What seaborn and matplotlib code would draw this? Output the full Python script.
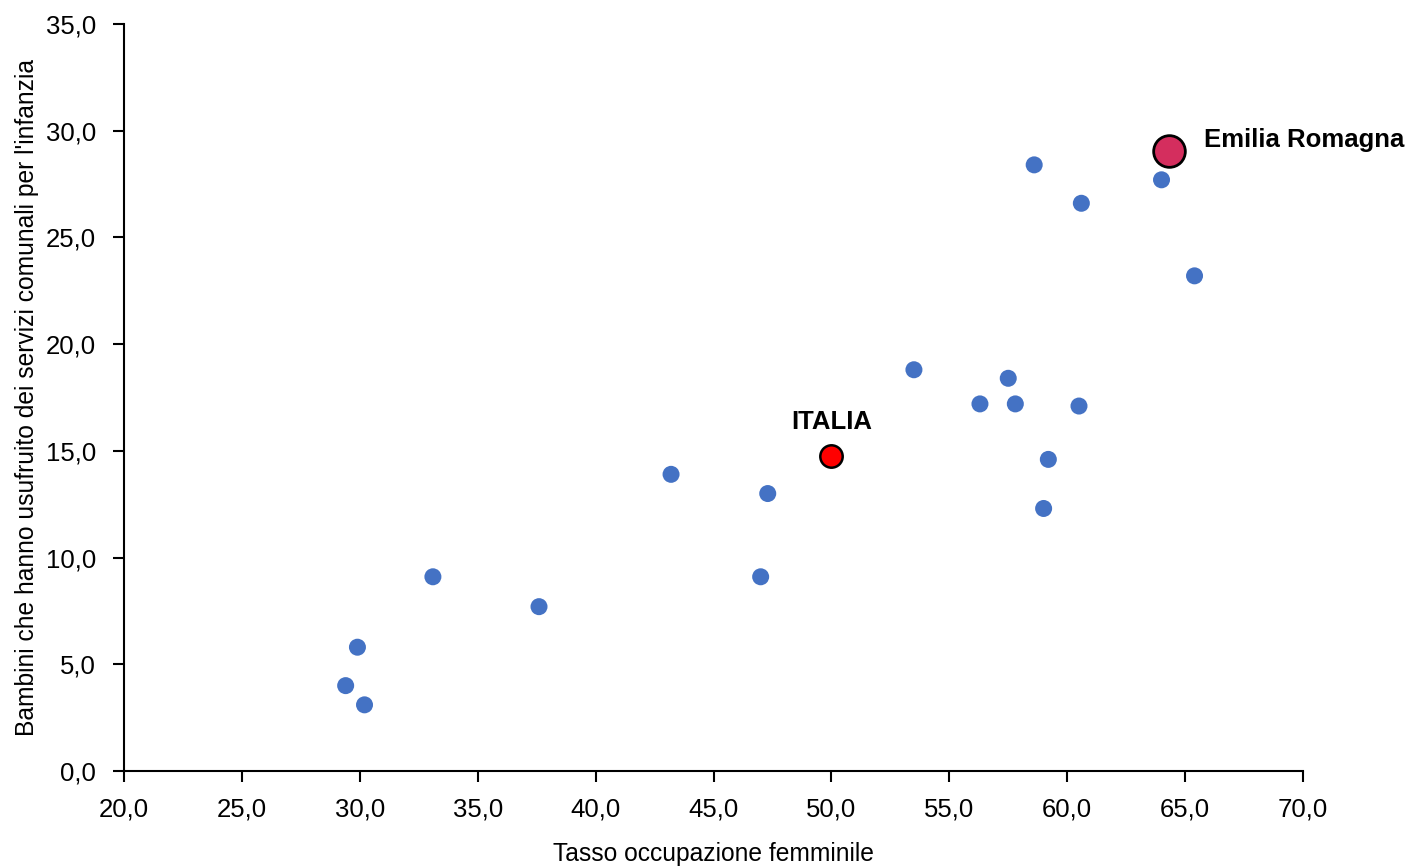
import matplotlib
matplotlib.use("Agg")
import matplotlib.pyplot as plt
import seaborn as sns
import pandas as pd
from matplotlib.ticker import FuncFormatter, MultipleLocator

# Data
occ_fem = [29.4, 29.9, 30.2, 33.1, 37.6, 43.2, 47.0, 47.3, 50.05, 53.5, 56.3,
           57.5, 57.8, 58.6, 59.0, 59.2, 60.5, 60.6, 64.0, 65.4]
bambini = [4.0, 5.8, 3.1, 9.1, 7.7, 13.9, 9.1, 13.0, 14.75, 18.8, 17.2,
           18.4, 17.2, 28.4, 12.3, 14.6, 17.1, 26.6, 27.7, 23.2]
italia_x, italia_y = [50.0], [14.75]
emilia_x, emilia_y = [64.3], [29.05]

xlabel = "Tasso occupazione femminile"
ylabel = "Bambini che hanno usufruito dei servizi comunali per l'infanzia"

sns.set_theme(style="ticks")
plt.rcParams['font.family'] = ['Liberation Sans', 'DejaVu Sans']

FS = 18.5
LFS = 17.7
fig = plt.figure(figsize=(14.1, 8.68), dpi=100)
ax = fig.add_axes([124/1410, 1-771/868, (1303-124)/1410, (771-24)/868])

df = pd.DataFrame({"x": occ_fem, "y": bambini})
sns.scatterplot(data=df, x="x", y="y", ax=ax, s=150, color="#4472C4",
                edgecolor="none", linewidth=0, zorder=3)
sns.scatterplot(x=italia_x, y=italia_y, ax=ax, s=260, color="#FF0000",
                edgecolor="black", linewidth=1.8, zorder=4)
sns.scatterplot(x=emilia_x, y=emilia_y, ax=ax, s=520, color="#D42E5E",
                edgecolor="black", linewidth=2.0, zorder=4)

ax.annotate("ITALIA", (italia_x[0], italia_y[0]), xytext=(0, 34),
            textcoords="offset pixels", ha="center", va="center",
            fontsize=FS, fontweight="bold", color="black")
ax.annotate("Emilia Romagna", (emilia_x[0], emilia_y[0]), xytext=(35, 11),
            textcoords="offset pixels", ha="left", va="center",
            fontsize=FS, fontweight="bold", color="black")

ax.set_xlim(20, 70)
ax.set_ylim(0, 35)
ax.xaxis.set_major_locator(MultipleLocator(5))
ax.yaxis.set_major_locator(MultipleLocator(5))
fmt = FuncFormatter(lambda v, p: f"{v:.1f}".replace(".", ","))
ax.xaxis.set_major_formatter(fmt)
ax.yaxis.set_major_formatter(fmt)

ax.set_xlabel(xlabel, fontsize=LFS, labelpad=15, color="black")
ax.set_ylabel(ylabel, fontsize=LFS, labelpad=5, color="black")
ax.tick_params(axis="both", labelsize=FS, direction="out", length=8,
               width=1.5, color="black", labelcolor="black")
ax.tick_params(axis="x", pad=11)
ax.tick_params(axis="y", pad=12)
for side in ["top", "right"]:
    ax.spines[side].set_visible(False)
for side in ["left", "bottom"]:
    ax.spines[side].set_linewidth(1.5)
    ax.spines[side].set_color("black")
ax.grid(False)

fig.savefig("out.png", dpi=100)
